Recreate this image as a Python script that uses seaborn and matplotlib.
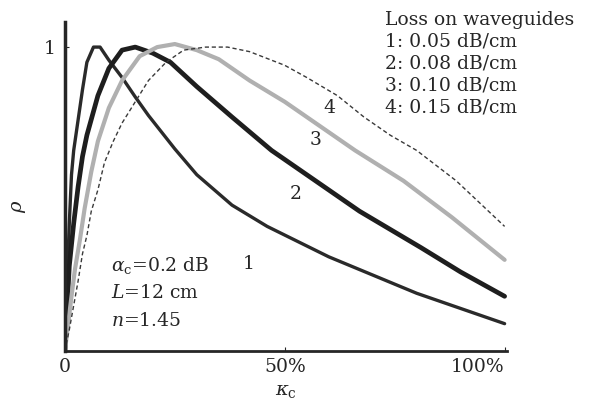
import numpy as np
import pandas as pd
import matplotlib
matplotlib.use("Agg")
import matplotlib.pyplot as plt
import seaborn as sns

# kappa_c in percent, rho values
k1 = [0, 0.5, 1, 1.5, 2, 3, 4, 5, 6.5, 8, 10, 13, 16, 19, 22, 25, 30, 38, 46, 53, 60, 70, 80, 90, 100]
r1 = [0, 0.22, 0.42, 0.58, 0.66, 0.76, 0.86, 0.95, 1.0, 1.0, 0.957, 0.90, 0.836, 0.775, 0.72, 0.665, 0.58, 0.48, 0.41, 0.36, 0.31, 0.25, 0.19, 0.14, 0.09]

k2 = [0, 1, 2, 3, 4, 5, 7.5, 10, 13, 16, 20, 24, 30, 38, 47, 57, 67, 81, 90, 100]
r2 = [0, 0.28, 0.42, 0.54, 0.64, 0.71, 0.84, 0.93, 0.99, 1.0, 0.98, 0.95, 0.87, 0.77, 0.66, 0.56, 0.46, 0.34, 0.26, 0.18]

k3 = [0, 1.5, 2.3, 3.4, 4.5, 6, 7.5, 10, 13, 17, 21, 25, 30, 35, 42, 50, 58, 66, 77, 88, 100]
r3 = [0, 0.18, 0.27, 0.365, 0.47, 0.59, 0.69, 0.80, 0.89, 0.97, 1.0, 1.01, 0.99, 0.96, 0.89, 0.82, 0.74, 0.66, 0.56, 0.44, 0.30]

k4 = [0, 1, 2, 3, 4, 5, 6, 7.5, 9, 11, 13, 16, 19, 23, 27, 32, 37, 42, 50, 55, 62, 68, 74, 80, 89, 100]
r4 = [0, 0.07, 0.15, 0.23, 0.32, 0.38, 0.46, 0.53, 0.62, 0.69, 0.75, 0.82, 0.89, 0.95, 0.99, 1.0, 1.0, 0.985, 0.94, 0.90, 0.84, 0.77, 0.71, 0.66, 0.56, 0.41]

legend_title = "Loss on waveguides"
legend_lines = ["1: 0.05 dB/cm", "2: 0.08 dB/cm", "3: 0.10 dB/cm", "4: 0.15 dB/cm"]
curve_labels = ["1", "2", "3", "4"]
xtick_vals = [0, 50, 100]
xtick_labels = ["0", "50%", "100%"]
ytick_vals = [1]
ytick_labels = ["1"]

sns.set_style("ticks")
plt.rcParams["font.family"] = ["DejaVu Serif"]
plt.rcParams["mathtext.fontset"] = "dejavuserif"

fig = plt.figure(figsize=(5.9, 4.03), dpi=100)
ax = fig.add_axes([0.110, 0.129, 0.749, 0.816])

styles = [
    dict(color="#2a2a2a", lw=2.4, ls="-"),
    dict(color="#1e1e1e", lw=3.4, ls="-"),
    dict(color="#b0b0b0", lw=3.0, ls="-"),
    dict(color="#3a3a3a", lw=1.0, ls=(0, (3, 2))),
]
for k, r, st in zip([k1, k2, k3, k4], [r1, r2, r3, r4], styles):
    df = pd.DataFrame({"k": k, "r": r})
    sns.lineplot(data=df, x="k", y="r", ax=ax, color=st["color"],
                 linewidth=st["lw"], linestyle=st["ls"], sort=False)

ax.set_xlim(0, 100.5)
ax.set_ylim(0, 1.082)
ax.set_xticks(xtick_vals)
ax.set_xticklabels(xtick_labels)
ax.set_yticks(ytick_vals)
ax.set_yticklabels(ytick_labels)
ax.tick_params(direction="in", length=3, labelsize=13.5)
ax.tick_params(axis="y", pad=7)
ax.tick_params(axis="x", pad=5)
ax.get_xticklabels()[-1].set_horizontalalignment("right")
for s in ["top", "right"]:
    ax.spines[s].set_visible(False)
ax.spines["left"].set_linewidth(2.5)
ax.spines["bottom"].set_linewidth(2.0)
ax.set_xlabel(r"$\kappa_{\rm c}$", fontsize=14)
ax.set_ylabel(r"$\rho$", fontsize=14)
ax.xaxis.set_label_coords(0.50, -0.095)
ax.yaxis.set_label_coords(-0.084, 0.44)

tx = 385 / 590
fig.text(tx, 1 - 20 / 403, legend_title, fontsize=13.5, va="center", ha="left")
for i, t in enumerate(legend_lines):
    fig.text(tx, 1 - (42 + 22 * i) / 403, t, fontsize=13.5, va="center", ha="left")

ax.text(10.5, 0.28, r"$\alpha_{\rm c}$=0.2 dB", fontsize=13.5, va="center")
ax.text(10.5, 0.19, r"$L$=12 cm", fontsize=13.5, va="center")
ax.text(10.5, 0.10, r"$n$=1.45", fontsize=13.5, va="center")

label_pos = [(41.8, 0.285), (52.5, 0.515), (57.0, 0.695), (60.2, 0.80)]
for lab, (x, y) in zip(curve_labels, label_pos):
    ax.text(x, y, lab, fontsize=13.5, ha="center", va="center")

fig.savefig("out.png", dpi=100)
